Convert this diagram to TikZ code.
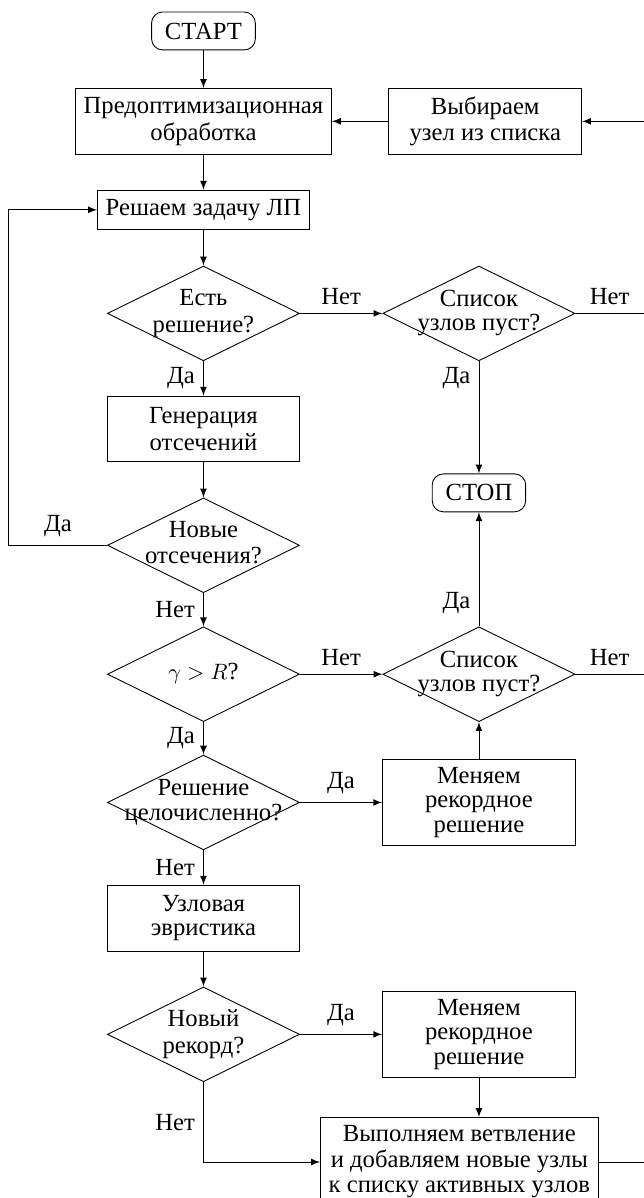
\documentclass[tikz,border=0pt]{standalone}
\usepackage{fontspec}
\setmainfont{Liberation Serif}[Scale=1.11]
\usepackage{amsmath}
\usetikzlibrary{shapes.geometric,calc}
\newcommand{\dtext}[1]{\makebox[0pt]{\begin{tabular}{@{}c@{}}#1\end{tabular}}}
\tikzset{
	block/.style={draw, rectangle, minimum width=3.05cm, minimum height=1.04cm, align=center},
	term/.style={draw, rectangle, rounded corners=5pt, minimum height=0.6cm, inner xsep=6pt},
	decision/.style={draw, diamond, aspect=2, minimum width=3.04cm, minimum height=1.5cm, inner sep=0pt}
}

\begin{document}
\begin{tikzpicture}[>=latex]
			\useasboundingbox (0,0) rectangle (10.19,-18.96);
			%bords gauche/droite
			\coordinate (lft) at (0.14,0);
			\coordinate (rgt) at (10.19,0);
			%COLONNE GAUCHE
			\node[term] (start) at (3.22,-0.49) {СТАРТ};
			\node[block] (preopt) at (3.22,-1.92) {Предоптимизационная\\обработка};
			\node[block, minimum height=0.62cm] (lp) at (3.22,-3.32) {Решаем задачу ЛП};
			\node[decision] (sol) at (3.22,-4.96) {\dtext{Есть\\решение?}};
			\node[block] (cuts) at (3.22,-6.79) {Генерация\\отсечений};
			\node[decision] (newcuts) at (3.22,-8.63) {\dtext{Новые\\отсечения?}};
			\node[decision] (gamma) at (3.22,-10.67) {\dtext{$\gamma > R$?}};
			\node[decision] (integer) at (3.22,-12.70) {\dtext{Решение\\[-1pt]целочисленно?}};
			\node[block] (heur) at (3.22,-14.53) {Узловая\\[-1pt]эвристика};
			\node[decision] (newrec) at (3.22,-16.37) {\dtext{Новый\\рекорд?}};
			%COLONNE DROITE
			\node[block] (choose) at (7.68,-1.92) {Выбираем\\узел из списка};
			\node[decision] (empty1) at (7.58,-4.96) {\dtext{Список\\[-1pt]узлов пуст?}};
			\node[term] (stop) at (7.58,-7.80) {СТОП};
			\node[decision] (empty2) at (7.58,-10.67) {\dtext{Список\\[-1pt]узлов пуст?}};
			\node[block] (rec1) at (7.58,-12.70) {Меняем\\[-1pt]рекордное\\[-1pt]решение};
			\node[block] (rec2) at (7.58,-16.37) {Меняем\\[-1pt]рекордное\\[-1pt]решение};
			\node[block] (branch) at (7.27,-18.39) {Выполняем ветвление\\[-0.5pt]и добавляем новые узлы\\[-0.5pt]к списку активных узлов};
			%fleches verticales
			\draw[->] (start) -- (preopt);
			\draw[->] (preopt) -- (lp);
			\draw[->] (lp) -- (sol);
			\draw[->] (sol) -- node[left]{Да} (cuts);
			\draw[->] (cuts) -- (newcuts);
			\draw[->] (newcuts) -- node[left]{Нет} (gamma);
			\draw[->] (gamma) -- node[left]{Да} (integer);
			\draw[->] (integer) -- node[left]{Нет} (heur);
			\draw[->] (heur) -- (newrec);
			\draw[->] (empty1) -- node[left, pos=0.15]{Да} (stop);
			\draw[->] (empty2) -- node[left, pos=0.2]{Да} (stop);
			\draw[->] (rec1) -- (empty2);
			\draw[->] (rec2.south) -- (rec2.south |- branch.north);
			%fleches horizontales
			\draw[->] (choose) -- (preopt);
			\draw[->] (sol) -- node[above]{Нет} (empty1);
			\draw[->] (gamma) -- node[above]{Нет} (empty2);
			\draw[->] (integer) -- node[above]{Да} (rec1);
			\draw[->] (newrec) -- node[above]{Да} (rec2);
			\draw[->] (newrec.south) |- node[left, pos=0.25]{Нет} (branch.west);
			%boucle
			\draw[->] (newcuts.west) -- node[above]{Да} (newcuts.west -| lft) |- (lp.west);
			%vers le bord droit
			\draw[->] (choose.east -| rgt) -- (choose.east);
			\draw (empty1.east) -- node[above]{Нет} (empty1.east -| rgt);
			\draw (empty2.east) -- node[above]{Нет} (empty2.east -| rgt);
			\draw (branch.east) -- (branch.east -| rgt);
\end{tikzpicture}
\end{document}
